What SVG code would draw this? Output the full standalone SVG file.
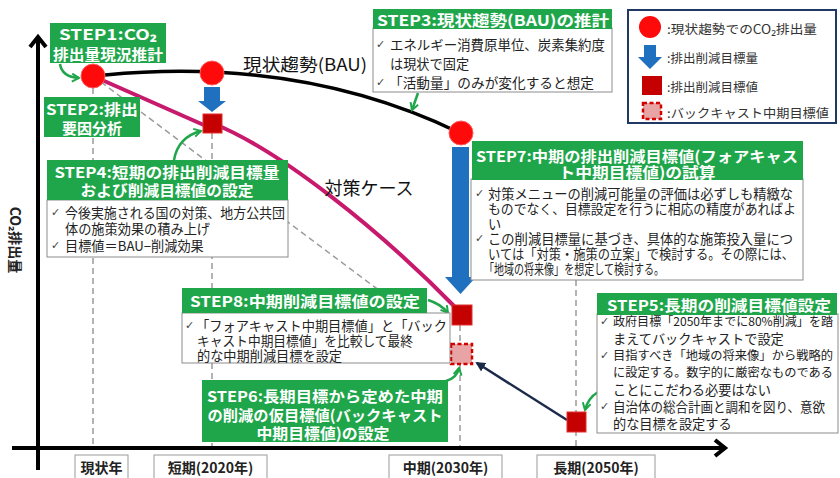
<svg xmlns="http://www.w3.org/2000/svg" width="840" height="478" viewBox="0 0 840 478" font-family="'Noto Sans CJK JP', 'Noto Sans', sans-serif">
<style>
.hdr{fill:#1fa64a}
.ht{fill:#fff;font-weight:bold;font-size:15px;text-anchor:middle;dominant-baseline:central}
.bd{fill:#fff;stroke:#8c8c8c;stroke-width:1}
.bt{fill:#222;font-size:13.2px;dominant-baseline:central}
.bs{fill:#222;font-size:12.2px;dominant-baseline:central}
.ck{fill:#444;font-size:11px;dominant-baseline:central;font-family:'DejaVu Sans',sans-serif}
.dash{stroke:#9a9a9a;stroke-width:1.5;stroke-dasharray:6 4;fill:none}
.garr{stroke:#1fa64a;stroke-width:2.5;fill:none;marker-end:url(#gm)}
.circ{fill:#ff0a0a;stroke:#ff5a5a;stroke-width:1}
.sq{fill:#c40000;stroke:#e03030;stroke-width:1}
.lt{fill:#333;font-size:12.5px;dominant-baseline:central}
.ax{fill:#222;font-size:14px;font-weight:bold;text-anchor:middle;dominant-baseline:central}
.axb{fill:#fff;stroke:#999;stroke-width:1}
</style>
<defs>
<marker id="gm" viewBox="0 0 10 10" refX="8" refY="5" markerWidth="4" markerHeight="4" orient="auto" markerUnits="strokeWidth">
<path d="M1,1 L8,5 L1,9" fill="none" stroke="#1fa64a" stroke-width="2"/>
</marker>
<marker id="nm" viewBox="0 0 10 10" refX="8" refY="5" markerWidth="4" markerHeight="4" orient="auto" markerUnits="strokeWidth">
<path d="M0,0 L10,5 L0,10 z" fill="#1c2a4a"/>
</marker>
</defs>
<rect width="840" height="478" fill="#fff"/>

<!-- guide lines -->
<g id="guides">
<line class="dash" x1="93" y1="76" x2="452" y2="345"/>
<line class="dash" x1="93" y1="88" x2="93" y2="448"/>
<line class="dash" x1="212" y1="133" x2="212" y2="448"/>
<line class="dash" x1="460" y1="325" x2="460" y2="448"/>
<line class="dash" x1="576" y1="280" x2="576" y2="448"/>
</g>

<!-- axes -->
<g id="axes" stroke="#000" fill="none" stroke-width="4">
<line x1="38" y1="470" x2="38" y2="38"/>
<polyline points="30,47 38,37 46,47" stroke-linejoin="miter"/>
<line x1="12" y1="448" x2="723" y2="448"/>
<polyline points="715,440 725,448 715,456"/>
</g>
<text transform="translate(16,240) rotate(90)" fill="#222" font-size="14" font-weight="bold" text-anchor="middle" dominant-baseline="central">CO₂排出量</text>

<!-- curves / connectors -->
<g id="connectors">
<path d="M105,75 C200,66 330,70 460,133" stroke="#000" stroke-width="3.5" fill="none"/>
<path d="M93,76 L206,126" stroke="#c71a6d" stroke-width="4" fill="none"/>
<path d="M212,123 C280,150 380,230 458,310" stroke="#c71a6d" stroke-width="4" fill="none"/>
<path d="M567,420 L477,363" stroke="#1c2a4a" stroke-width="2.5" fill="none" marker-end="url(#nm)"/>
<path class="garr" d="M60,64 Q62,77 79,78"/>
<path class="garr" d="M174,160 Q178,137 201,131"/>
<path class="garr" d="M418,93 L412,110"/>
<path class="garr" d="M428,300 Q441,304 448,313"/>
<path class="garr" d="M446,381 Q457,378 459,368"/>
<path class="garr" d="M598,392 Q588,398 585,410"/>
</g>

<!-- data points -->
<g id="p-now"><circle class="circ" cx="93" cy="76" r="12"/></g>
<g id="p-short">
<circle class="circ" cx="212" cy="73" r="12"/>
<polygon points="204,87 220,87 220,101 226,101 212,112 198,101 204,101" fill="#2070c0"/>
<rect class="sq" x="203" y="114" width="19" height="19"/>
</g>
<g id="p-mid">
<circle class="circ" cx="461" cy="133" r="12"/>
<polygon points="452,147 469,147 469,277 476,277 460.5,294 445,277 452,277" fill="#2070c0"/>
<rect class="sq" x="452" y="305" width="20" height="20"/>
<rect x="451" y="344" width="21" height="20" fill="#e8a4a4" stroke="#d40000" stroke-width="2.5" stroke-dasharray="4 2.5"/>
</g>
<g id="p-long"><rect class="sq" x="567" y="412" width="19" height="20"/></g>

<text x="305" y="63" font-size="17" fill="#111" text-anchor="middle" dominant-baseline="central" textLength="124" lengthAdjust="spacingAndGlyphs">現状趨勢(BAU)</text>
<text x="369" y="187" font-size="18" fill="#111" text-anchor="middle" dominant-baseline="central">対策ケース</text>

<!-- STEP1 -->
<g id="step1">
<rect class="hdr" x="50" y="23" width="116" height="40"/>
<text class="ht" x="108" y="33" textLength="98" lengthAdjust="spacingAndGlyphs">STEP1:CO₂</text>
<text class="ht" x="108" y="53" textLength="110" lengthAdjust="spacingAndGlyphs">排出量現況推計</text>
</g>

<!-- STEP2 -->
<g id="step2">
<rect class="hdr" x="44" y="97" width="96" height="40"/>
<text class="ht" x="92" y="108" textLength="92" lengthAdjust="spacingAndGlyphs">STEP2:排出</text>
<text class="ht" x="92" y="127">要因分析</text>
</g>

<!-- STEP3 -->
<g id="step3">
<rect class="bd" x="373" y="28" width="239" height="64"/>
<rect class="hdr" x="373" y="9" width="239" height="20"/>
<text class="ht" x="493" y="19" textLength="232" lengthAdjust="spacingAndGlyphs">STEP3:現状趨勢(BAU)の推計</text>
<text class="ck" x="376" y="44">✓</text>
<text class="bt" x="390" y="44" textLength="215" lengthAdjust="spacingAndGlyphs">エネルギー消費原単位、炭素集約度</text>
<text class="bt" x="390" y="63">は現状で固定</text>
<text class="ck" x="376" y="82">✓</text>
<text class="bt" x="389" y="82" textLength="205" lengthAdjust="spacingAndGlyphs">「活動量」のみが変化すると想定</text>
</g>

<!-- legend -->
<g id="legend">
<rect x="628" y="10" width="208" height="113" fill="#fff" stroke="#203864" stroke-width="2"/>
<circle cx="650" cy="27" r="11" fill="#ff0a0a"/>
<text class="lt" x="667" y="28" textLength="150" lengthAdjust="spacingAndGlyphs">:現状趨勢でのCO₂排出量</text>
<polygon points="644,45 656,45 656,57 662,57 650,69 638,57 644,57" fill="#2070c0"/>
<text class="lt" x="667" y="57">:排出削減目標量</text>
<rect x="642" y="76" width="20" height="19" fill="#c40000"/>
<text class="lt" x="667" y="86">:排出削減目標値</text>
<rect x="643" y="103" width="18" height="16" fill="#e8a4a4" stroke="#d40000" stroke-width="2.5" stroke-dasharray="4 2.5"/>
<text class="lt" x="667" y="112" textLength="162" lengthAdjust="spacingAndGlyphs">:バックキャスト中期目標値</text>
</g>

<!-- STEP4 -->
<g id="step4">
<rect class="bd" x="47" y="200" width="241" height="57"/>
<rect class="hdr" x="47" y="160" width="241" height="40"/>
<text class="ht" x="167" y="171" textLength="225" lengthAdjust="spacingAndGlyphs">STEP4:短期の排出削減目標量</text>
<text class="ht" x="167" y="189" textLength="173" lengthAdjust="spacingAndGlyphs">および削減目標値の設定</text>
<text class="ck" x="51" y="212">✓</text>
<text class="bt" x="65" y="212" textLength="220" lengthAdjust="spacingAndGlyphs">今後実施される国の対策、地方公共団</text>
<text class="bt" x="65" y="228">体の施策効果の積み上げ</text>
<text class="ck" x="51" y="245">✓</text>
<text class="bt" x="65" y="245">目標値＝BAU−削減効果</text>
</g>

<!-- STEP7 -->
<g id="step7">
<rect class="bd" x="471" y="179" width="332" height="101"/>
<rect class="hdr" x="472" y="141" width="331" height="39"/>
<text class="ht" x="637" y="155" textLength="322" lengthAdjust="spacingAndGlyphs">STEP7:中期の排出削減目標値(フォアキャス</text>
<text class="ht" x="637" y="171" textLength="157" lengthAdjust="spacingAndGlyphs">ト中期目標値)の試算</text>
<text class="ck" x="475" y="193">✓</text>
<text class="bt" x="488" y="193" textLength="305" lengthAdjust="spacingAndGlyphs">対策メニューの削減可能量の評価は必ずしも精緻な</text>
<text class="bt" x="488" y="208" textLength="308" lengthAdjust="spacingAndGlyphs">ものでなく、目標設定を行うに相応の精度があればよ</text>
<text class="bt" x="488" y="223">い</text>
<text class="ck" x="475" y="238">✓</text>
<text class="bt" x="488" y="238" textLength="305" lengthAdjust="spacingAndGlyphs">この削減目標量に基づき、具体的な施策投入量につ</text>
<text class="bt" x="488" y="253" textLength="306" lengthAdjust="spacingAndGlyphs">いては「対策・施策の立案」で検討する。その際には、</text>
<text class="bt" x="484" y="268" textLength="180" lengthAdjust="spacingAndGlyphs">「地域の将来像」を想定して検討する。</text>
</g>

<!-- STEP8 -->
<g id="step8">
<rect class="bd" x="182" y="313" width="268" height="50"/>
<rect class="hdr" x="182" y="288" width="245" height="25"/>
<text class="ht" x="305" y="300" textLength="230" lengthAdjust="spacingAndGlyphs">STEP8:中期削減目標値の設定</text>
<text class="ck" x="185" y="325">✓</text>
<text class="bt" x="196" y="325" textLength="251" lengthAdjust="spacingAndGlyphs">「フォアキャスト中期目標値」と「バック</text>
<text class="bt" x="197" y="340" textLength="216" lengthAdjust="spacingAndGlyphs">キャスト中期目標値」を比較して最終</text>
<text class="bt" x="197" y="355">的な中期削減目標を設定</text>
</g>

<!-- STEP6 -->
<g id="step6">
<rect class="hdr" x="202" y="380" width="246" height="62"/>
<text class="ht" x="325" y="395" textLength="236" lengthAdjust="spacingAndGlyphs">STEP6:長期目標から定めた中期</text>
<text class="ht" x="325" y="414" textLength="235" lengthAdjust="spacingAndGlyphs">の削減の仮目標値(バックキャスト</text>
<text class="ht" x="323" y="432" textLength="133" lengthAdjust="spacingAndGlyphs">中期目標値)の設定</text>
</g>

<!-- STEP5 -->
<g id="step5">
<rect class="bd" x="597" y="314" width="241" height="119"/>
<rect class="hdr" x="597" y="293" width="240" height="22"/>
<text class="ht" x="719" y="304" textLength="224" lengthAdjust="spacingAndGlyphs">STEP5:長期の削減目標値設定</text>
<text class="ck" x="600" y="321">✓</text>
<text class="bs" x="613" y="321" textLength="220" lengthAdjust="spacingAndGlyphs">政府目標「2050年までに80%削減」を踏</text>
<text class="bt" x="613" y="338">まえてバックキャストで設定</text>
<text class="ck" x="600" y="355">✓</text>
<text class="bs" x="613" y="355" textLength="220" lengthAdjust="spacingAndGlyphs">目指すべき「地域の将来像」から戦略的</text>
<text class="bs" x="613" y="372" textLength="220" lengthAdjust="spacingAndGlyphs">に設定する。数字的に厳密なものである</text>
<text class="bt" x="613" y="389">ことにこだわる必要はない</text>
<text class="ck" x="600" y="406">✓</text>
<text class="bt" x="613" y="406" textLength="212" lengthAdjust="spacingAndGlyphs">自治体の総合計画と調和を図り、意欲</text>
<text class="bt" x="613" y="423">的な目標を設定する</text>
</g>

<!-- time axis labels -->
<g id="t-now"><rect class="axb" x="75" y="455" width="53" height="30"/><text class="ax" x="101.5" y="467">現状年</text></g>
<g id="t-short"><rect class="axb" x="154" y="455" width="113" height="30"/><text class="ax" x="210.5" y="467">短期(2020年)</text></g>
<g id="t-mid"><rect class="axb" x="389" y="455" width="113" height="30"/><text class="ax" x="445.5" y="467">中期(2030年)</text></g>
<g id="t-long"><rect class="axb" x="537" y="455" width="118" height="30"/><text class="ax" x="596" y="467">長期(2050年)</text></g>
</svg>
